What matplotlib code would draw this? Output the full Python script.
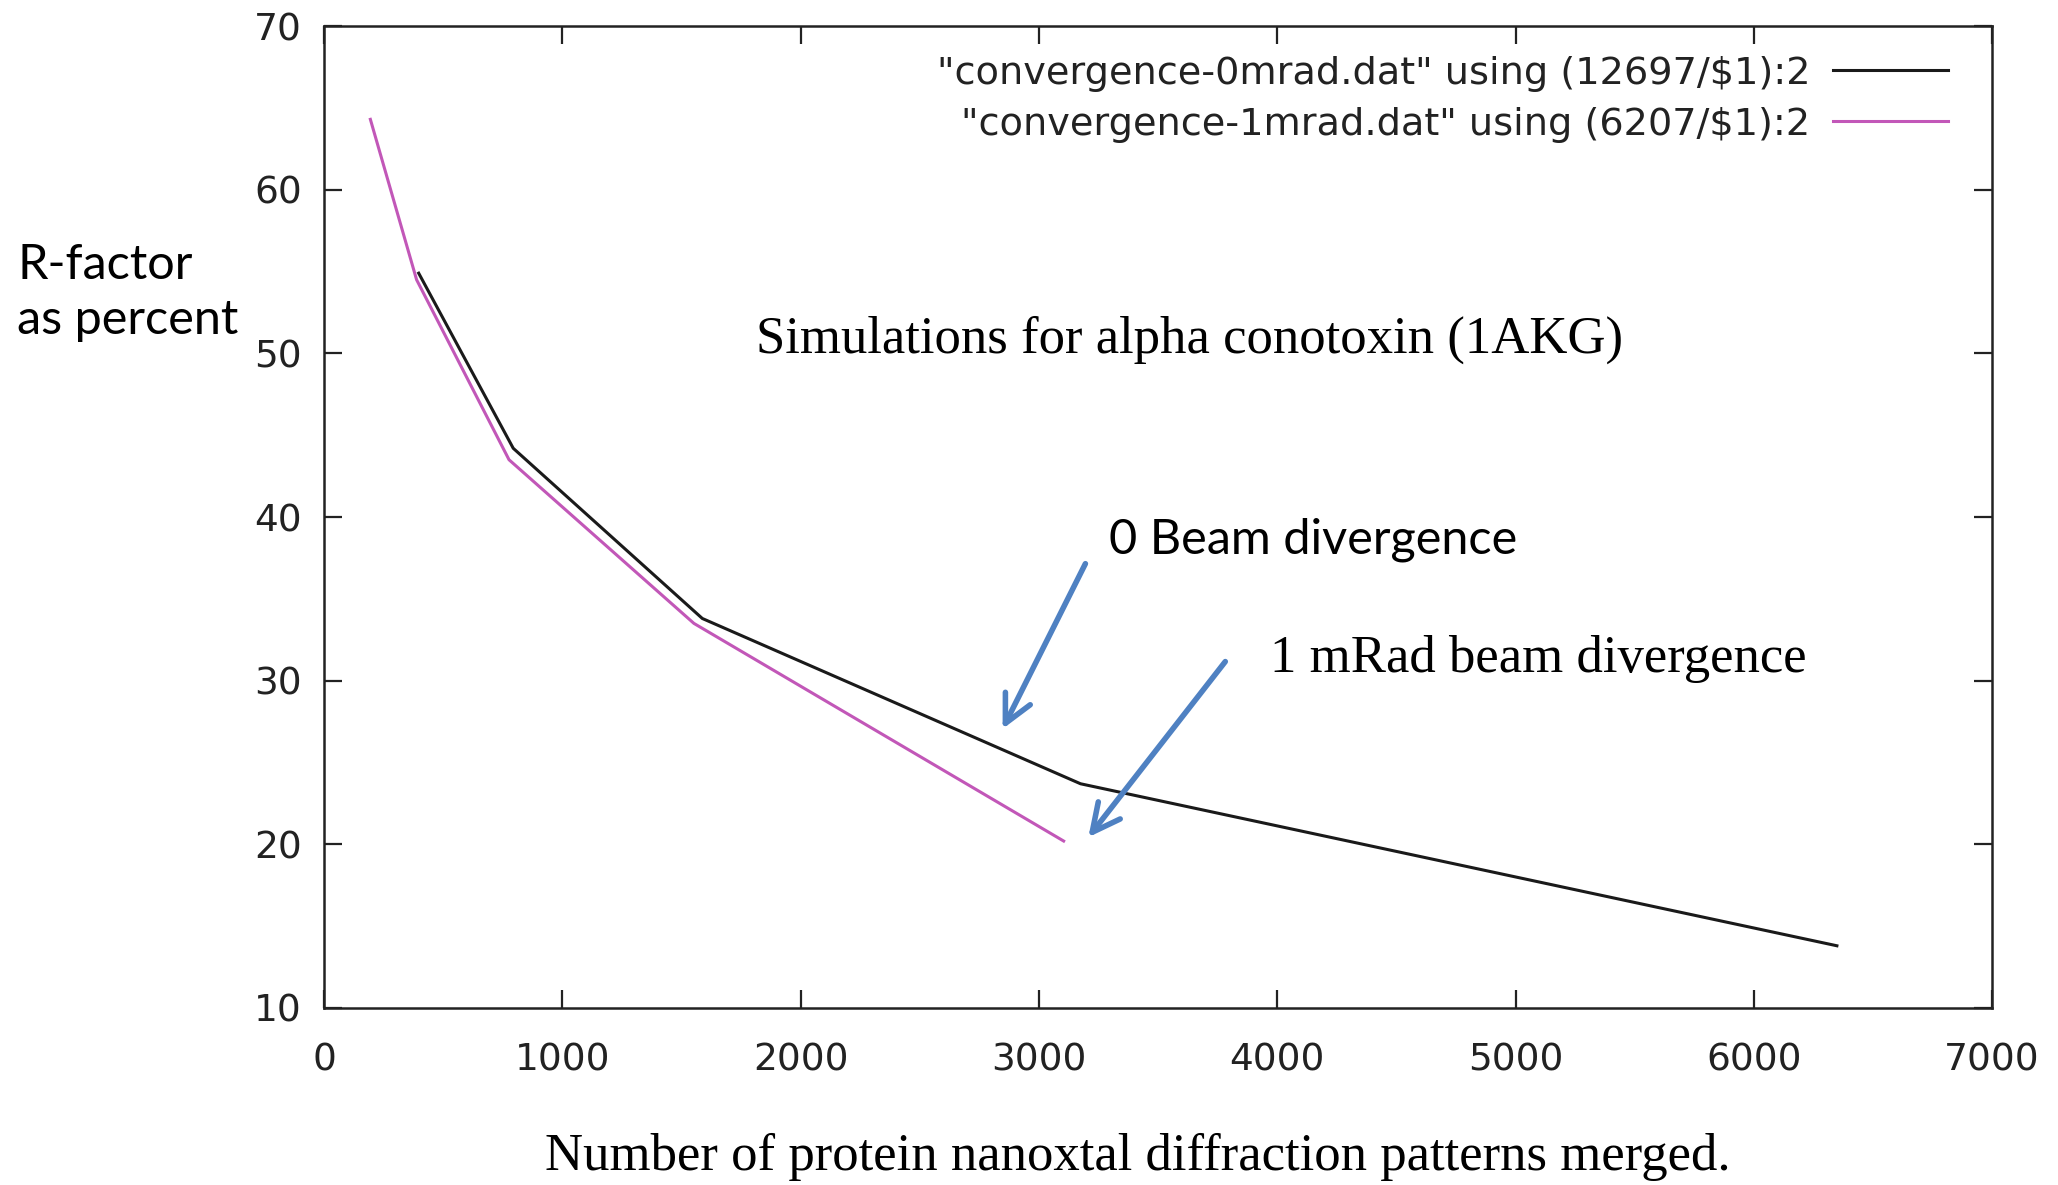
import matplotlib
matplotlib.use('Agg')
import matplotlib.pyplot as plt

# Datos (x = 12697/n y 6207/n)
x_0mrad = [396.8, 793.6, 1587.1, 3174.3, 6348.5]
r_0mrad = [54.9, 44.2, 33.8, 23.7, 13.8]

x_1mrad = [194.0, 388.0, 775.9, 1551.8, 3103.5]
r_1mrad = [64.3, 54.5, 43.5, 33.5, 20.2]

etiqueta_0 = '"convergence-0mrad.dat" using (12697/$1):2'
etiqueta_1 = '"convergence-1mrad.dat" using (6207/$1):2'

xticks = [0, 1000, 2000, 3000, 4000, 5000, 6000, 7000]
yticks = [10, 20, 30, 40, 50, 60, 70]

GRIS = '#222222'
AZUL = '#4f81c2'


def Main():
    fig = plt.figure(figsize=(20.58, 11.85), dpi=100)
    ax = fig.add_axes([0.1575, 0.1494, 0.8105, 0.8286])

    ax.plot(x_0mrad, r_0mrad, color='#1a1a1a', lw=2.2, label=etiqueta_0)
    ax.plot(x_1mrad, r_1mrad, color='#c257b8', lw=2.2, label=etiqueta_1)

    ax.set_xlim(0, 7000)
    ax.set_ylim(10, 70)
    ax.set_xticks(xticks)
    ax.set_yticks(yticks)
    ax.tick_params(direction='in', length=13, width=1.6, colors=GRIS,
                   labelsize=27, top=True, right=True, pad=16,
                   labelcolor=GRIS)
    ax.tick_params(axis='x', pad=25)
    for s in ax.spines.values():
        s.set_linewidth(1.8)
        s.set_color(GRIS)

    leg = ax.legend(loc='upper right', bbox_to_anchor=(0.994, 1.005),
                    frameon=False, markerfirst=False, fontsize=27.5,
                    handlelength=3.0, labelspacing=0.4, handletextpad=0.6)
    for t in leg.get_texts():
        t.set_color(GRIS)

    ax.text(3630, 50.8, 'Simulations for alpha conotoxin (1AKG)',
            family='Liberation Serif', fontsize=38, ha='center', va='center')
    ax.text(3293, 38.6, '0 Beam divergence', family='Lato', fontsize=35,
            ha='left', va='center')
    ax.text(3971, 31.3, '1 mRad beam divergence', family='Liberation Serif',
            fontsize=38, ha='left', va='center')

    # flechas azules
    flecha = dict(arrowstyle='->', color=AZUL, lw=4, mutation_scale=50)
    ax.annotate('', xy=(2842, 26.9), xytext=(3200, 37.3), arrowprops=flecha)
    ax.annotate('', xy=(3200, 20.3), xytext=(3789, 31.3), arrowprops=flecha)

    fig.text(0.0085, 0.753, 'R-factor\nas percent', family='Lato',
             fontsize=35, ha='left', va='center', linespacing=1.3)
    fig.text(0.553, 0.024, 'Number of protein nanoxtal diffraction patterns merged.',
             family='Liberation Serif', fontsize=38, ha='center', va='center')

    fig.savefig('out.png', dpi=100)


if __name__ == '__main__':
    Main()
